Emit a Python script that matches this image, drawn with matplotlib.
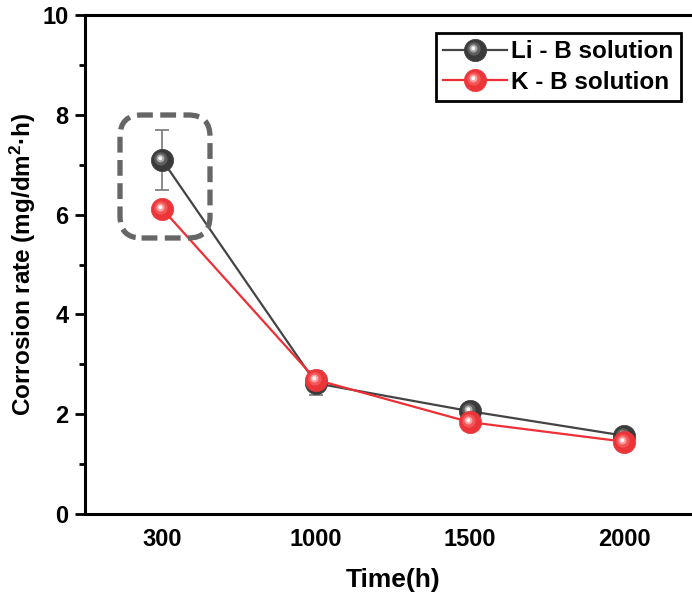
import matplotlib
matplotlib.use("Agg")
import matplotlib.pyplot as plt
import numpy as np
from matplotlib.path import Path
from matplotlib.patches import FancyBboxPatch
from matplotlib.legend_handler import HandlerTuple

plt.rcParams['font.family'] = ['Liberation Sans', 'DejaVu Sans']
plt.rcParams['font.weight'] = 'bold'
plt.rcParams['mathtext.fontset'] = 'custom'
plt.rcParams['mathtext.rm'] = 'Liberation Sans:bold'
plt.rcParams['mathtext.bf'] = 'Liberation Sans:bold'
plt.rcParams['mathtext.it'] = 'Liberation Sans:bold'

categories = ["300", "1000", "1500", "2000"]
li_values = [7.10, 2.62, 2.06, 1.57]
li_errors = [0.60, 0.24, 0.12, 0.08]
k_values = [6.12, 2.69, 1.84, 1.45]
k_errors = [0.12, 0.08, 0.08, 0.06]

def spot(cx, cy, r):
    c = Path.circle((cx, cy), r)
    verts = np.vstack([[[0.5, 0.5]], c.vertices])
    codes = np.concatenate([[Path.MOVETO], c.codes])
    return Path(verts, codes)

glow = spot(-0.07, 0.07, 0.30)
mid = spot(-0.09, 0.09, 0.18)
core = spot(-0.10, 0.10, 0.09)

fig = plt.figure(figsize=(6.92, 5.92), dpi=100)
ax = fig.add_axes([85/692, 1-514/592, 616/692, 499/592])
x = np.arange(len(categories))
MS = 16

def draw(vals, errs, line_c, mark_c, glow_c, mid_c, ecol, z):
    ax.errorbar(x, vals, yerr=errs, fmt='none', ecolor=ecol, elinewidth=1.2,
                capsize=5, capthick=1.2, zorder=z)
    ln, = ax.plot(x, vals, '-', color=line_c, lw=1.6, zorder=z)
    base, = ax.plot(x, vals, 'o', ms=MS, mfc=mark_c, mec=mark_c, mew=0.5, zorder=z + 0.1, ls='none')
    g, = ax.plot(x, vals, marker=glow, ms=MS, mfc=glow_c, mec='none', alpha=0.45, ls='none', zorder=z + 0.2)
    m, = ax.plot(x, vals, marker=mid, ms=MS, mfc=mid_c, mec='none', alpha=0.7, ls='none', zorder=z + 0.3)
    c, = ax.plot(x, vals, marker=core, ms=MS, mfc='white', mec='none', alpha=0.95, ls='none', zorder=z + 0.4)
    return ln, base, g, m, c

li = draw(li_values, li_errors, '#444444', '#3a3a3a', '#8a8a8a', '#c8c8c8', '#777777', 3)
k = draw(k_values, k_errors, '#ee2f35', '#ec3539', '#ff7f7f', '#ffc0c0', '#ee3a3d', 4)

ax.set_xlim(-0.5, 3.5)
ax.set_ylim(0, 10)
ax.set_xticks(x)
ax.set_xticklabels(categories)
ax.set_yticks([0, 2, 4, 6, 8, 10])
ax.set_yticks([1, 3, 5, 7, 9], minor=True)
ax.tick_params(axis='x', length=0, pad=10, labelsize=17)
ax.tick_params(axis='y', which='major', length=7, width=2, pad=5, labelsize=17, direction='out')
ax.tick_params(axis='y', which='minor', length=4, width=2, direction='out')
for s in ax.spines.values():
    s.set_linewidth(2.2)

ax.set_xlabel("Time(h)", fontsize=19, fontweight='bold', labelpad=12)
ax.set_ylabel(r"Corrosion rate (mg/dm$^{2}$·h)", fontsize=17.5, fontweight='bold', labelpad=3)

box = FancyBboxPatch((35/616, (514-238)/499), 90/616, 123/499,
                     boxstyle="round,pad=0,rounding_size=0.035", mutation_aspect=616/499,
                     transform=ax.transAxes, fill=False, ec='#666666', lw=3.8,
                     ls=(0, (3.0, 1.4)), zorder=5, clip_on=False)
ax.add_patch(box)

leg = ax.legend([li, k], ["Li - B solution", "K - B solution"],
                handler_map={tuple: HandlerTuple(ndivide=1)},
                loc='upper right', bbox_to_anchor=(681/692, 1-33/592),
                bbox_transform=fig.transFigure, borderaxespad=0,
                fancybox=False, edgecolor='black', framealpha=1,
                prop={'size': 17.5, 'weight': 'bold'}, handlelength=2.6,
                handletextpad=0.2, borderpad=0.3, labelspacing=0.3)
leg.get_frame().set_linewidth(2)

fig.savefig("out.png", dpi=100)
